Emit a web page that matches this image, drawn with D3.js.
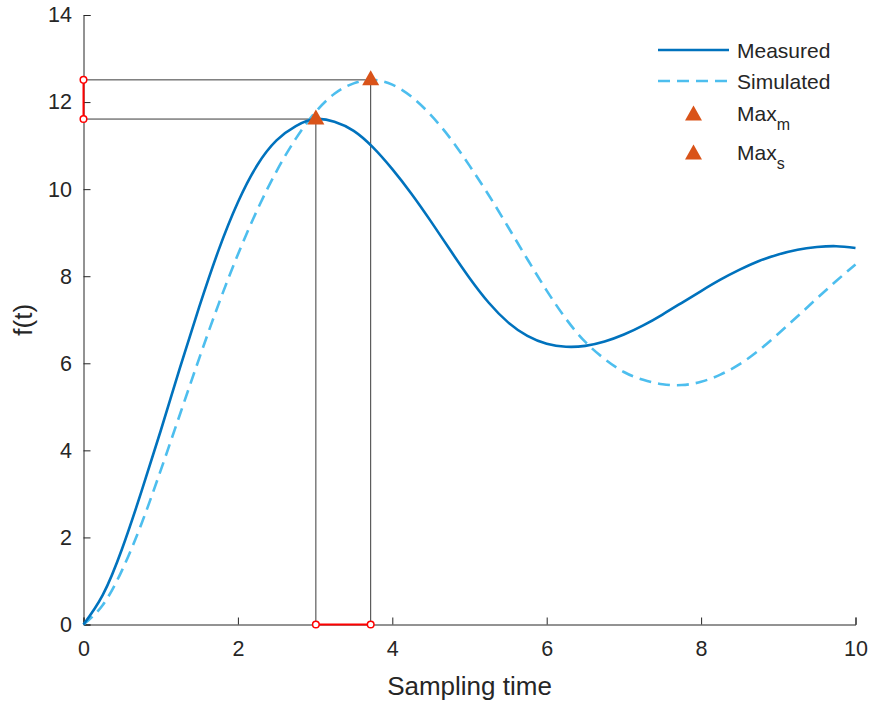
<!DOCTYPE html>
<html>
<head>
<meta charset="utf-8">
<script src="https://cdn.jsdelivr.net/npm/d3@7/dist/d3.min.js"></script>
<style>
  html, body { margin: 0; padding: 0; background: #fff; }
  svg { display: block; font-family: "Liberation Sans", Arial, Helvetica, sans-serif; }
</style>
</head>
<body>
<svg id="chart" width="871" height="702"></svg>
<script>
// ---- data ----
const time = [0,0.25,0.5,0.75,1,1.25,1.5,1.75,2,2.25,2.5,2.75,3,3.25,3.5,3.75,4,4.25,4.5,4.75,5,5.25,5.5,5.75,6,6.25,6.5,6.75,7,7.25,7.5,7.75,8,8.25,8.5,8.75,9,9.25,9.5,9.75,10];
const measured = [0,0.68,1.74,3.05,4.45,5.9,7.3,8.6,9.7,10.55,11.12,11.45,11.61,11.55,11.34,10.96,10.46,9.89,9.26,8.6,7.96,7.39,6.94,6.63,6.45,6.38,6.40,6.5,6.66,6.87,7.12,7.39,7.66,7.92,8.15,8.35,8.5,8.61,8.67,8.69,8.65];
const simulated = [0,0.45,1.25,2.31,3.54,4.83,6.12,7.36,8.50,9.52,10.41,11.16,11.76,12.19,12.43,12.51,12.40,12.12,11.70,11.17,10.54,9.86,9.13,8.39,7.67,7.02,6.49,6.10,5.80,5.62,5.52,5.50,5.575,5.74,5.98,6.30,6.68,7.08,7.49,7.89,8.27];
const peakLabels = ["Max_m", "Max_s"];
const peakTime = [3.01, 3.72];
const peakValue = [11.61, 12.51];
const xTicks = [0,2,4,6,8,10];
const yTicks = [0,2,4,6,8,10,12,14];
const seriesNames = ["Measured", "Simulated"];

// ---- layout ----
const svg = d3.select("#chart");
const x = d3.scaleLinear().domain([0, 10]).range([83.5, 855.5]);
const y = d3.scaleLinear().domain([0, 14]).range([624.5, 15]);
const textColor = "#262626";

// axes
const xAxis = svg.append("g").attr("transform", `translate(0,${y(0)})`)
  .call(d3.axisBottom(x).tickValues(xTicks).tickSizeInner(-7).tickSizeOuter(-7).tickPadding(16).tickFormat(d3.format("d")));
const yAxis = svg.append("g").attr("transform", `translate(${x(0)},0)`)
  .call(d3.axisLeft(y).tickValues(yTicks).tickSizeInner(-7).tickSizeOuter(-7).tickPadding(11.5).tickFormat(d3.format("d")));
[xAxis, yAxis].forEach(g => {
  g.selectAll("path.domain").attr("stroke", textColor).attr("stroke-width", 1);
  g.selectAll(".tick line").attr("stroke", textColor).attr("stroke-width", 1);
  g.selectAll(".tick text").attr("fill", textColor).style("font-size", "21.5px").style("font-family", '"Liberation Sans", Arial, sans-serif');
});

// axis labels
svg.append("text").attr("x", x(5)).attr("y", 695).attr("text-anchor", "middle")
  .attr("fill", textColor).style("font-size", "26px").text("Sampling time");
svg.append("text").attr("transform", `translate(32,${y(7)}) rotate(-90)`).attr("text-anchor", "middle")
  .attr("fill", textColor).style("font-size", "26px").text("f(t)");

// reference lines from peaks to axes
peakTime.forEach((t, i) => {
  svg.append("line").attr("x1", x(0)).attr("x2", x(t)).attr("y1", y(peakValue[i])).attr("y2", y(peakValue[i]))
    .attr("stroke", "#3a3a3a").attr("stroke-width", 1);
  svg.append("line").attr("x1", x(t)).attr("x2", x(t)).attr("y1", y(peakValue[i])).attr("y2", y(0))
    .attr("stroke", "#3a3a3a").attr("stroke-width", 1);
});

// curves
const line = d3.line().x((d, i) => x(time[i])).y(d => y(d)).curve(d3.curveNatural);
svg.append("path").datum(simulated).attr("d", line).attr("fill", "none")
  .attr("stroke", "#4DBEEE").attr("stroke-width", 2.6).attr("stroke-dasharray", "12,7");
svg.append("path").datum(measured).attr("d", line).attr("fill", "none")
  .attr("stroke", "#0072BD").attr("stroke-width", 2.6);

// red difference segments on axes
const red = "#FF0000";
svg.append("line").attr("x1", x(0)).attr("x2", x(0)).attr("y1", y(peakValue[0])).attr("y2", y(peakValue[1]))
  .attr("stroke", red).attr("stroke-width", 2);
svg.append("line").attr("x1", x(peakTime[0])).attr("x2", x(peakTime[1])).attr("y1", y(0)).attr("y2", y(0))
  .attr("stroke", red).attr("stroke-width", 2);
const circ = [[0, peakValue[0]], [0, peakValue[1]], [peakTime[0], 0], [peakTime[1], 0]];
svg.selectAll("circle.end").data(circ).enter().append("circle")
  .attr("cx", d => x(d[0])).attr("cy", d => y(d[1])).attr("r", 3.3)
  .attr("fill", "white").attr("stroke", red).attr("stroke-width", 1.5);

// triangle markers
const tri = (w, h) => `M0,${-h/2}L${w/2},${h/2}L${-w/2},${h/2}Z`;
const orange = "#D95319";
peakTime.forEach((t, i) => {
  svg.append("path").attr("d", tri(17, 15)).attr("transform", `translate(${x(t)},${y(peakValue[i]) - 2})`)
    .attr("fill", orange);
});

// legend
const lg = svg.append("g");
const lx0 = 658, lx1 = 729, tx = 737;
const rows = [50, 81, 113, 152];
lg.append("line").attr("x1", lx0).attr("x2", lx1).attr("y1", rows[0]).attr("y2", rows[0])
  .attr("stroke", "#0072BD").attr("stroke-width", 2.6);
lg.append("line").attr("x1", lx0).attr("x2", lx1).attr("y1", rows[1]).attr("y2", rows[1])
  .attr("stroke", "#4DBEEE").attr("stroke-width", 2.6).attr("stroke-dasharray", "12,7");
seriesNames.forEach((n, i) => {
  lg.append("text").attr("x", tx).attr("y", rows[i]).attr("dy", "0.36em").attr("fill", textColor)
    .style("font-size", "21px").text(n);
});
peakLabels.forEach((n, i) => {
  const r = rows[i + 2];
  lg.append("path").attr("d", tri(17, 15)).attr("transform", `translate(${(lx0 + lx1) / 2},${r})`).attr("fill", orange);
  const parts = n.split("_");
  const t = lg.append("text").attr("x", tx).attr("y", r).attr("dy", "0.36em").attr("fill", textColor).style("font-size", "21px");
  t.append("tspan").text(parts[0]);
  t.append("tspan").attr("dy", "9").style("font-size", "16px").text(parts[1]);
});
</script>
</body>
</html>
